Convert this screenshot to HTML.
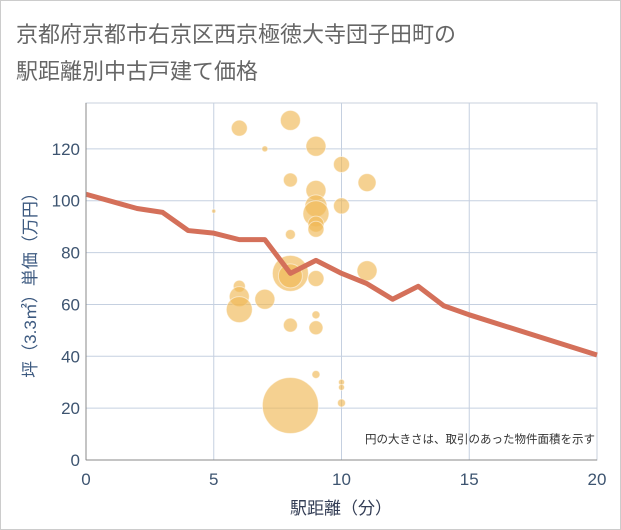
<!DOCTYPE html>
<html><head><meta charset="utf-8"><style>
body{margin:0;background:#fff;}
svg{display:block;font-family:"Liberation Sans","Noto Sans CJK JP",sans-serif;}
</style></head><body>
<svg id="chart" width="621" height="530">
<rect x="0.5" y="0.5" width="620" height="529" fill="#fff" stroke="#ccc"/>
<text x="16" y="42" font-size="22" fill="#666">京都府京都市右京区西京極徳大寺団子田町の</text>
<text x="16" y="79" font-size="22" fill="#666">駅距離別中古戸建て価格</text>
<g id="grid"></g><g id="bubbles"></g><g id="line"></g><g id="axes"></g>
<text x="595" y="443" font-size="11.5" fill="#333" text-anchor="end">円の大きさは、取引のあった物件面積を示す</text>
<text x="341" y="514" font-size="17" fill="#333d55" text-anchor="middle">駅距離（分）</text>
<text transform="translate(36,281) rotate(-90)" font-size="17" fill="#3d5a80" text-anchor="middle">坪（3.3㎡）単価（万円）</text>
</svg>
<script>
const xTicks=[0,5,10,15,20];
const yTicks=[0,20,40,60,80,100,120];
const bubbleX=[6,7,8,9,10,8,11,9,5,9,9,10,9,9,8,8,8,9,11,6,6,6,7,8,9,9,9,10,10,10,8];
const bubbleY=[128,120,131,121,114,108,107,104,96,98,95,98,91,89,87,72,71,70,73,67,63,58,62,52,56,51,33,30,28,22,21];
const bubbleR=[8,3,10,10,8,7,9,10,2,11,13,8,8,8,5,18,12,8,10,6,10,13,10,7,4,7,4,3,3,4,28];
const lineX=[0,2,3,4,5,6,7,8,9,10,11,12,13,14,15,20];
const lineY=[102.5,97,95.5,88.5,87.5,85,85,72,77,72,68,62,67,59.5,56,40.5];
const L=86,R=597,T=103,B=460;
const sx=v=>L+(v/20)*(R-L);
const sy=v=>B-(v/137.7)*(B-T);
const NS="http://www.w3.org/2000/svg";
function mk(t,a,p){const e=document.createElementNS(NS,t);for(const k in a)e.setAttribute(k,a[k]);p.appendChild(e);return e;}
const grid=document.getElementById('grid'),axes=document.getElementById('axes');
mk('rect',{x:L,y:T,width:R-L,height:B-T,fill:'#fff',stroke:'#c8d0dc'},grid);
xTicks.forEach(v=>{if(v>0&&v<20){const g=mk('line',{x1:sx(v),x2:sx(v),y1:T,y2:B,stroke:'#c5d0e0'},grid);

}
const t=mk('text',{x:sx(v),y:B+25,'font-size':17,fill:'#3d5470','text-anchor':'middle'},axes);t.textContent=v;

});
yTicks.forEach(v=>{if(v>0){const g=mk('line',{x1:L,x2:R,y1:sy(v),y2:sy(v),stroke:'#c5d0e0'},grid);

}
const t=mk('text',{x:L-6,y:sy(v)+6,'font-size':17,fill:'#3d5470','text-anchor':'end'},axes);t.textContent=v;

});
mk('line',{x1:L,x2:L,y1:T,y2:B,stroke:'#888'},axes);
mk('line',{x1:L,x2:R,y1:B,y2:B,stroke:'#888'},axes);
const bg=document.getElementById('bubbles');
bubbleX.forEach((x,i)=>{const c=mk('circle',{cx:sx(x),cy:sy(bubbleY[i]),r:bubbleR[i],fill:'#f0b856','fill-opacity':0.65,stroke:'#fff','stroke-opacity':0.5},bg);

});
const pts=lineX.map((x,i)=>sx(x)+','+sy(lineY[i])).join(' ');
const pl=mk('polyline',{points:pts,fill:'none',stroke:'#d4705a','stroke-width':5,'stroke-linejoin':'round'},document.getElementById('line'));


</script>
</body></html>
